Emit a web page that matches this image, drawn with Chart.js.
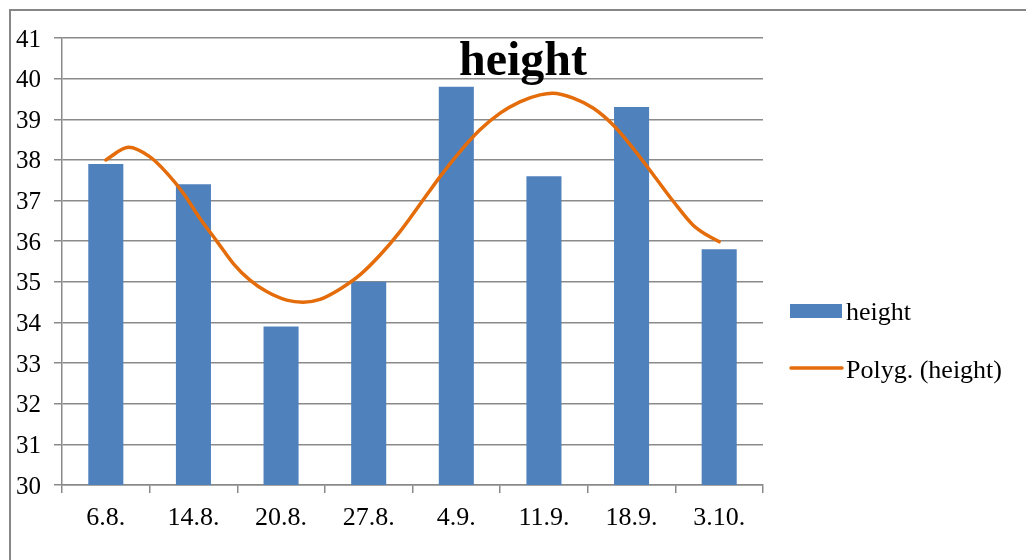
<!DOCTYPE html>
<html>
<head>
<meta charset="utf-8">
<script src="https://cdn.jsdelivr.net/npm/chart.js@4.4.1/dist/chart.umd.min.js"></script>
<style>
  html, body { margin: 0; padding: 0; background: #ffffff; }
  #wrap { position: relative; width: 1026px; height: 560px; overflow: hidden; background: #fff; }
  #frame { position: absolute; left: 9px; top: 9px; width: 1100px; height: 600px;
           border-top: 2px solid #878787; border-left: 2px solid #878787; box-sizing: border-box; }
  canvas { position: absolute; left: 0; top: 0; }
</style>
</head>
<body>
<div id="wrap">
  <div id="frame"></div>
  <canvas id="c" width="1026" height="560"></canvas>
</div>
<script>
// ---- data ----
const categories = ["6.8.", "14.8.", "20.8.", "27.8.", "4.9.", "11.9.", "18.9.", "3.10."];
const heightValues = [37.9, 37.4, 33.9, 35.0, 39.8, 37.6, 39.3, 35.8];
// polynomial trend line (x = category index)
const trendX = [0, 0.26, 0.5, 0.7, 0.885, 1.075, 1.27, 1.455, 1.645, 1.835, 2.065, 2.25, 2.445, 2.67, 2.9, 3.13, 3.355, 3.58, 3.815, 4.04, 4.27, 4.5, 4.725, 4.955, 5.1, 5.335, 5.565, 5.79, 6.02, 6.25, 6.48, 6.7, 6.86, 7.0];
const trendY = [38.00, 38.31, 38.08, 37.67, 37.18, 36.56, 35.99, 35.45, 35.04, 34.76, 34.55, 34.50, 34.57, 34.82, 35.17, 35.66, 36.23, 36.89, 37.59, 38.20, 38.74, 39.15, 39.43, 39.60, 39.64, 39.52, 39.27, 38.86, 38.28, 37.63, 36.97, 36.40, 36.15, 35.99];
const yMin = 30, yMax = 41, yStep = 1;
const titleText = "height";
const seriesLabel = "height";
const trendLabel = "Polyg. (height)";

const BAR_COLOR = "#4F81BD";
const LINE_COLOR = "#E46C0A";
const GRID = "#8a8a8a";
const SERIF = '"Liberation Serif", "Times New Roman", serif';

const trendPoints = trendX.map((x, i) => ({ x: x, y: trendY[i] }));

const overlayPlugin = {
  id: "overlay",
  afterDraw(chart) {
    const ctx = chart.ctx;
    ctx.save();
    // title
    ctx.fillStyle = "#000";
    ctx.font = "bold 48px " + SERIF;
    ctx.textAlign = "center";
    ctx.textBaseline = "alphabetic";
    ctx.fillText(titleText, 523, 75);
    // legend
    const ds = chart.data.datasets;
    ctx.textAlign = "left";
    ctx.font = "26px " + SERIF;
    ctx.fillStyle = ds[0].backgroundColor;
    ctx.fillRect(790, 304, 52, 14);
    ctx.fillStyle = "#000";
    ctx.fillText(ds[0].label, 846, 320);
    ctx.strokeStyle = ds[1].borderColor;
    ctx.lineWidth = 3.5;
    ctx.lineCap = "round";
    ctx.beginPath();
    ctx.moveTo(791, 368);
    ctx.lineTo(842, 368);
    ctx.stroke();
    ctx.fillText(ds[1].label, 846, 378);
    ctx.restore();
  }
};

new Chart(document.getElementById("c"), {
  type: "bar",
  data: {
    labels: categories,
    datasets: [
      {
        type: "bar",
        label: seriesLabel,
        data: heightValues,
        backgroundColor: BAR_COLOR,
        borderWidth: 0,
        grouped: false,
        categoryPercentage: 1.0,
        barPercentage: 0.4,
        xAxisID: "x",
        order: 2
      },
      {
        type: "line",
        label: trendLabel,
        data: trendPoints,
        borderColor: LINE_COLOR,
        backgroundColor: LINE_COLOR,
        borderWidth: 3.5,
        borderCapStyle: "round",
        pointRadius: 0,
        cubicInterpolationMode: "monotone",
        fill: false,
        xAxisID: "x2",
        order: 1
      }
    ]
  },
  options: {
    responsive: false,
    animation: false,
    devicePixelRatio: 1,
    layout: { padding: { left: 0, top: 38, right: 263, bottom: 0 } },
    plugins: {
      legend: { display: false },
      title: { display: false },
      tooltip: { enabled: false }
    },
    scales: {
      x: {
        type: "category",
        offset: true,
        grid: {
          display: true,
          drawOnChartArea: false,
          drawTicks: true,
          tickLength: 8,
          offset: true,
          color: GRID,
          lineWidth: 1.5
        },
        border: { display: true, color: GRID, width: 1.5 },
        ticks: {
          color: "#000",
          font: { family: SERIF, size: 26 },
          padding: 10,
          maxRotation: 0,
          autoSkip: false
        },
        afterFit(scale) { scale.height = 75; }
      },
      x2: {
        type: "linear",
        display: false,
        offset: false,
        min: -0.5,
        max: 7.5
      },
      y: {
        type: "linear",
        min: yMin,
        max: yMax,
        grid: {
          color: GRID,
          lineWidth: 1.5,
          tickLength: 8,
          drawTicks: true
        },
        border: { display: true, color: GRID, width: 1.5 },
        ticks: {
          stepSize: yStep,
          color: "#000",
          font: { family: SERIF, size: 25 },
          padding: 13,
          labelOffset: 2
        },
        afterFit(scale) { scale.width = 62; }
      }
    }
  },
  plugins: [overlayPlugin]
});
</script>
</body>
</html>
